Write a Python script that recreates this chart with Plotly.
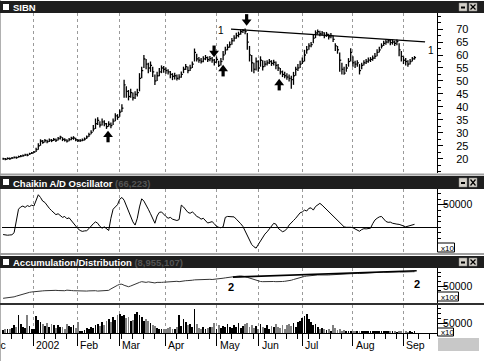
import plotly.graph_objects as go

W, H = 484, 361


def py(p):
    return 1 - p / H


def px(p):
    return p / W


# ---------------- data (trading-day index on x) ----------------
close = [
    20.0, 19.8, 20.1, 20.0, 20.3, 20.5, 20.4, 20.8, 21.0, 21.2, 21.5, 21.4, 21.9, 22.2, 22.6,
    23.5, 25.0, 26.8, 26.3,
    27.0, 26.6, 27.2, 27.0, 27.4, 27.1, 27.8, 28.3, 27.5, 27.2, 26.8, 27.4, 27.9, 28.0, 27.3, 27.0,
    27.0, 27.2, 27.6, 28.4, 29.3, 30.2,
    31.5, 33.5, 34.8, 33.0, 34.2, 33.5, 32.4, 33.3, 32.8,
    34.5, 36.5, 36.0, 38.0, 39.5,
    48.5,
    46.0, 44.0, 45.5, 43.5, 44.8, 45.5,
    51.0, 54.0,
    58.5,
    56.5, 55.0, 56.0, 53.5,
    50.0,
    52.0, 53.5, 55.0, 54.5, 54.0, 53.5,
    52.5, 51.8, 52.0, 51.0, 51.5, 52.5,
    54.5, 55.5, 54.0, 55.0, 56.5,
    61.0, 58.5,
    58.0, 57.5, 58.5, 59.0, 58.2, 58.6,
    58.0, 57.2, 58.3,
    56.0, 57.5,
    60.0, 62.0, 63.0, 64.0, 65.5,
    66.5, 67.5, 68.0, 69.0, 69.5,
    69.0,
    65.0, 60.0, 57.0,
    54.5, 57.5, 55.0, 58.0, 55.5,
    56.5, 57.0, 57.5, 56.8, 57.2, 56.0,
    55.0, 53.5, 52.5, 52.0, 51.5, 51.0,
    50.5,
    52.0, 54.5, 55.0, 56.5, 57.5,
    60.0, 62.0, 63.5, 64.0,
    66.5, 68.5, 69.0, 68.2,
    68.5, 67.5, 68.0, 67.0, 67.5, 66.0,
    63.5, 62.0,
    58.0, 54.5, 53.0, 55.0,
    57.5, 61.0, 57.0,
    56.5, 57.0, 54.0, 56.0,
    57.0, 57.5, 58.0, 58.3, 58.8,
    59.5, 61.0, 62.0, 63.5, 64.5,
    65.0, 65.5, 64.8, 65.0, 64.5, 65.2,
    62.0, 59.5,
    58.0, 57.5, 56.5, 57.5,
    58.5, 59.0,
]

high = [
    20.4, 20.3, 20.5, 20.5, 20.7, 20.9, 20.9, 21.2, 21.4, 21.6, 21.9, 21.9, 22.3, 22.6, 23.0,
    24.2, 26.0, 27.5, 27.2,
    27.6, 27.3, 27.8, 27.6, 28.0, 27.8, 28.4, 28.9, 28.3, 27.9, 27.5, 28.0, 28.5, 28.7, 28.1, 27.6,
    27.6, 27.8, 28.2, 29.0, 30.0, 31.0,
    33.0, 35.5, 36.0, 34.5, 35.5, 34.8, 33.8, 34.5, 34.0,
    35.5, 37.5, 37.2, 39.0, 41.0,
    50.5,
    48.0, 46.5, 47.0, 45.5, 46.0, 47.0,
    53.0, 55.5,
    60.0,
    58.5, 57.0, 57.5, 55.5,
    52.5,
    53.5, 55.0, 56.0, 55.8, 55.2, 54.5,
    53.8, 53.0, 53.2, 52.5, 52.6, 53.6,
    55.5, 56.5, 55.6, 56.2, 57.5,
    62.5, 60.5,
    59.2, 58.8, 59.5, 60.0, 59.4, 59.6,
    59.2, 58.5, 59.4,
    57.8, 58.8,
    61.5, 63.2, 64.2, 65.2, 66.6,
    67.6, 68.6, 69.0, 69.8, 70.0,
    70.2,
    68.5, 63.5, 60.0,
    57.0, 59.0, 58.0, 59.5, 58.0,
    57.8, 58.0, 58.5, 58.0, 58.2, 57.5,
    56.5, 55.0, 54.0, 53.5, 53.0, 52.5,
    52.0,
    53.5, 55.5, 56.5, 57.8, 59.0,
    62.0, 63.5, 64.5, 65.0,
    68.0, 69.5, 69.8, 69.4,
    69.3, 68.8, 68.9, 68.2, 68.5, 67.5,
    64.5, 63.5,
    61.0, 57.0, 55.5, 56.5,
    58.8, 62.6, 59.5,
    57.8, 58.0, 56.5, 57.0,
    58.0, 58.5, 59.0, 59.2, 59.8,
    60.8, 62.2, 63.2, 64.5, 65.5,
    66.0, 66.2, 65.8, 66.0, 65.5, 66.0,
    64.5, 61.5,
    59.5, 58.8, 58.0, 58.5,
    59.2, 59.6,
]

low = [
    19.6, 19.4, 19.7, 19.6, 19.9, 20.1, 20.0, 20.4, 20.6, 20.8, 21.1, 21.0, 21.5, 21.8, 22.2,
    22.6, 23.5, 25.0, 25.8,
    26.3, 26.0, 26.5, 26.4, 26.8, 26.5, 27.0, 27.4, 26.8, 26.6, 26.3, 26.7, 27.1, 27.3, 26.7, 26.5,
    26.5, 26.7, 27.0, 27.6, 28.4, 29.4,
    30.5, 31.5, 33.0, 32.0, 32.8, 32.5, 31.5, 32.3, 31.8,
    33.0, 34.5, 35.0, 36.2, 38.0,
    43.5,
    43.5, 42.5, 43.5, 42.5, 43.0, 44.0,
    46.0, 51.0,
    55.0,
    54.5, 53.0, 53.5, 51.5,
    48.4,
    50.0, 51.8, 53.0, 53.2, 52.8, 52.5,
    51.0, 50.3, 50.6, 50.2, 50.5, 51.2,
    53.0, 54.2, 53.0, 53.8, 55.0,
    57.5, 57.5,
    57.0, 56.7, 57.2, 58.0, 57.3, 57.6,
    57.0, 56.0, 57.0,
    55.4, 56.0,
    58.0, 60.2, 61.8, 62.8, 64.0,
    65.2, 66.3, 66.8, 67.8, 68.5,
    68.0,
    62.0, 57.5, 53.5,
    53.0, 54.0, 53.5, 55.5, 54.0,
    55.5, 56.0, 56.5, 55.8, 56.0, 54.5,
    53.8, 52.5, 51.5, 51.0, 50.5, 49.8,
    47.0,
    48.5, 52.0, 53.8, 55.0, 56.5,
    57.5, 60.5, 62.0, 63.0,
    64.5, 66.5, 68.0, 67.2,
    67.5, 66.5, 67.0, 66.0, 66.5, 65.0,
    61.5, 60.5,
    53.5, 52.5, 52.4, 53.5,
    55.5, 57.5, 55.5,
    55.0, 55.5, 52.5, 54.5,
    56.0, 56.5, 57.0, 57.3, 57.8,
    58.5, 59.5, 61.0, 62.5, 63.5,
    64.0, 64.5, 63.8, 64.0, 63.5, 63.8,
    59.5, 57.5,
    56.5, 56.0, 55.5, 56.3,
    57.5, 58.2,
]

# Chaikin A/D oscillator (axis units, x10)
chaikin = [
    -16000, -17000, -17500, -17000, -16500, -12000,
    15000, 40000, 45000,
    47000, 44000, 48000, 46000, 49000, 47000,
    60000, 72000,
    66000, 58000, 55000, 47000, 42000, 37000,
    33000, 28000, 30000, 26000, 22000, 24000, 19000, 21000,
    15000, 8000, 2000, -3000,
    -7000, -9000, -8000, -7500, -3000,
    3000, 8000, 12000, 9000,
    2000, -2000, 1000, -4000, -7000,
    20000, 40000, 45000,
    50000, 62000, 66000, 60000,
    48000, 35000, 25000, 12000, 5000,
    20000, 45000, 63000,
    58000, 50000, 40000, 30000, 18000, 9000,
    25000, 33000, 34000, 28000,
    24000, 20000, 22000, 18000, 16000, 15000, 17000,
    49000, 45000, 40000, 33000, 31000, 34000,
    30000, 24000, 22000, 18000, 20000, 14000, 9500,
    11000, 12500, 8000,
    2000, 0, -1000, 1000,
    22000, 24000, 23500, 24000, 23000,
    18000, 14000, 8000, 2000,
    -8000, -20000, -30000, -38000, -43000, -46000,
    -38000, -30000, -22000, -15000, -10000, -3000,
    3000, 8800, 7000,
    -2000, -6000, -9700, -8000, -3000,
    5000, 9000, 15000, 20000,
    25000, 32000, 34000, 38000, 36000, 42000, 43000,
    38000, 46000, 50000, 53000,
    49000, 44000, 40000, 35000, 30000, 26000, 20000, 15000, 10000, 5000, 1000,
    0, 500, 0, -1000,
    -4000, -7000, -8800,
    -5000, -3000, -3500, -3000, -2000,
    8000, 16000, 20000, 23000, 24000,
    18000, 13000, 11000, 11500,
    9000, 8800, 7000, 6500, 4000, 3000,
    1000, 2500, 4000, 5500, 6600,
]

# Accumulation/Distribution line (axis units, x100)
ad_line = [
    16000, 16500, 17500, 17000, 18500, 20000, 22000, 24000, 26500, 28000, 30000, 31500, 32500, 33500, 34500,
    35500, 36000, 37000, 36500, 37000, 37500, 37000, 36500, 37000, 38000, 37500, 37000, 36500, 37000, 38500,
    39000, 37500, 37000, 36500, 37000,
    36500, 36000, 36500, 36000, 36500, 37000, 37500, 37000, 36000, 36500, 37000, 36000, 37000, 38000,
    42000, 46000, 50000, 52000, 54700, 55000, 52000, 50000,
    48000, 50000, 53000, 56000, 58000, 60000, 62000,
    61000, 60000, 61500, 60000, 59000, 58500, 60000, 61000, 60000,
    60500, 61000, 62000, 61500, 62000, 62500, 63000, 62000, 63500, 64000, 64700,
    65000, 64500, 66000, 67000, 67500, 68000, 68500, 68000, 68500, 69000, 68500, 68000, 68500, 68000,
    69000, 70000, 71500, 72500, 73500, 75000, 75700, 76500, 77000, 77500, 77800, 77700,
    76000, 74000, 72000, 69000, 67000, 66000, 64000,
    62500, 62000, 62500, 62000, 61500, 62000, 62500, 62000, 61500, 62000, 62500, 63000, 63500,
    64500, 66000, 68000, 70000, 72000, 74000, 75500, 76500, 77500, 78500, 79000, 79500, 80000, 80500, 80500,
    80000, 80500, 81000, 80500, 81000, 81500, 82000, 82500, 83000, 82500, 83000, 83500, 84000, 84500, 84000,
    84500,
    85000, 84500, 85000, 84000, 84500, 85000, 85500, 86000, 86500, 87000, 87500, 88000, 88500, 88000, 88500,
    88000, 88500, 89000, 88500, 89000, 88500, 89000, 89500, 89000, 89300, 89500, 89551,
]

# Volume (axis units, x10)
volume = [
    15000, 20000, 22000, 18000, 25000,
    40000, 30000, 90000, 45000, 30000,
    25000, 88000, 35000, 20000, 22000,
    85000, 65000, 55000, 45000, 35000,
    50000, 30000, 45000, 40000, 25000,
    38000, 28000, 30000, 22000, 45000,
    35000, 30000, 42000, 25000, 55000,
    10000, 12000, 15000, 25000, 20000,
    30000, 25000, 38000, 45000, 35000,
    55000, 40000, 60000, 70000, 55000,
    80000, 65000, 90000, 95000, 85000,
    88000, 75000, 80000, 60000, 65000,
    95000, 105000, 88000, 80000, 60000,
    70000, 62000, 50000, 40000, 35000,
    25000, 20000, 22000, 18000, 20000,
    25000, 30000, 20000, 22000, 28000,
    88000, 35000, 72000, 55000, 38000,
    45000, 30000, 122000, 45000, 25000,
    20000, 28000, 22000, 25000, 30000,
    28000, 50000, 22000, 38000, 25000,
    35000, 30000, 45000, 28000, 25000,
    40000, 30000, 48000, 25000, 35000,
    45000, 50000, 30000, 40000, 25000,
    35000, 20000, 45000, 30000, 25000,
    40000, 22000, 35000, 28000, 45000,
    30000, 25000, 38000, 22000, 40000,
    45000, 35000, 50000, 30000, 55000,
    60000, 75000, 85000, 97000, 70000,
    55000, 40000, 45000, 30000, 22000,
    25000, 18000, 15000, 20000, 12000,
    38000, 25000, 15000, 18000, 12000,
    15000, 10000, 8000, 12000, 9000,
    7000, 10000, 8000, 6000, 12000,
    8000, 10000, 7000, 9000, 6000,
    8000, 12000, 7000, 6000, 10000,
    8000, 6000, 9000, 7000, 5000,
    12000, 8000, 6000, 10000, 5000,
    7000, 4000, 6000,
]

month_idx = [13.6, 33.6, 52.7, 73.6, 97.2, 116.3, 135.9, 159.0, 181.8]
month_lbl = ["2002", "Feb", "Mar", "Apr", "May", "Jun", "Jul", "Aug", "Sep"]

price_ticks = [20, 25, 30, 35, 40, 45, 50, 55, 60, 65, 70]

trend1_x = [103.6, 191.8]
trend1_y = [70.0, 65.1]
trend2_x = [104.5, 188.0]
trend2_y = [74500, 92300]

# arrows: (day index, price at arrow tip, direction)
arrows = [(47.7, 30.2, "up"), (95.9, 59.8, "down"), (100.0, 55.6, "up"),
          (110.7, 71.9, "down"), (125.5, 50.2, "up")]

days = list(range(len(close)))

# ---------------- figure ----------------
fig = go.Figure()

bx, by = [], []
for i, h, l, c in zip(days, high, low, close):
    bx += [i, i, None, i, i + 0.7, None]
    by += [l, h, None, c, c, None]
fig.add_trace(go.Scatter(x=bx, y=by, mode="lines", line=dict(color="black", width=1.3),
                         xaxis="x", yaxis="y", hoverinfo="skip"))
fig.add_trace(go.Scatter(x=trend1_x, y=trend1_y, mode="lines", line=dict(color="black", width=1.3),
                         xaxis="x", yaxis="y"))

# block arrows: triangle head + thick shaft (price units per pixel of the panel)
ppx = (76.2 - 14.5) / 160.0
for (i, p, d) in arrows:
    s = 1 if d == "up" else -1
    fig.add_trace(go.Scatter(x=[i, i], y=[p - s * 4 * ppx, p - s * 10 * ppx], mode="lines",
                             line=dict(color="black", width=3.2), xaxis="x", yaxis="y",
                             hoverinfo="skip"))
    fig.add_trace(go.Scatter(x=[i], y=[p - s * 2.6 * ppx], mode="markers",
                             marker=dict(symbol="triangle-up" if d == "up" else "triangle-down",
                                         size=8.5, color="black", line=dict(width=0)),
                             xaxis="x", yaxis="y", hoverinfo="skip"))

fig.add_trace(go.Scatter(x=days, y=chaikin, mode="lines", line=dict(color="black", width=1),
                         xaxis="x2", yaxis="y2"))

fig.add_trace(go.Scatter(x=days, y=ad_line, mode="lines", line=dict(color="#333333", width=1),
                         xaxis="x3", yaxis="y3"))
fig.add_trace(go.Scatter(x=trend2_x, y=trend2_y, mode="lines", line=dict(color="black", width=1.6),
                         xaxis="x3", yaxis="y3"))

vcol = ["black" if i == 0 or close[i] >= close[i - 1] else "#808080" for i in days]
fig.add_trace(go.Bar(x=days, y=volume, width=0.4, marker=dict(color=vcol, line=dict(width=0)),
                     xaxis="x4", yaxis="y4"))

xr = [-0.5, (437 - 2) / 2.2 - 0.5]
xdom = [px(2), px(437)]
font = "Liberation Sans, Arial, sans-serif"

common_x = dict(domain=xdom, range=xr, tickvals=month_idx, showticklabels=False, ticks="",
                showgrid=True, gridcolor="#9a9a9a", griddash="dot", gridwidth=1, zeroline=False,
                fixedrange=True)

layout = dict(
    width=W, height=H, margin=dict(l=0, r=0, t=0, b=0), showlegend=False,
    paper_bgcolor="white", plot_bgcolor="white", bargap=0,
    xaxis=dict(**common_x, anchor="y"),
    xaxis2=dict(**common_x, anchor="y2"),
    xaxis3=dict(**common_x, anchor="y3"),
    xaxis4=dict(domain=xdom, range=xr, tickvals=month_idx, showticklabels=False, ticks="outside",
                ticklen=12, tickcolor="black", tickwidth=1, showline=True, linecolor="black",
                showgrid=True, gridcolor="#9a9a9a", griddash="dot", zeroline=False, anchor="y4",
                minor=dict(ticks="outside", ticklen=5, tickcolor="black", dtick=5, tick0=13.6,
                           showgrid=False)),
)

ycommon = dict(side="right", showline=True, linecolor="black", linewidth=1, ticks="outside",
               tickcolor="black", showgrid=False, zeroline=False,
               tickfont=dict(family=font, size=11, color="black"))

layout["yaxis"] = dict(**ycommon, domain=[py(173), py(13)], range=[14.5, 76.2], anchor="x",
                       tickvals=price_ticks, ticklen=5, ticklabelstandoff=11,
                       minor=dict(ticks="outside", ticklen=3, dtick=2.5, tickcolor="black"))
layout["yaxis2"] = dict(**ycommon, domain=[py(252), py(189)], range=[-54600, 84700], anchor="x2",
                        tickvals=[50000], ticktext=["50000"], ticklen=9, ticklabelstandoff=-6,
                        minor=dict(ticks="outside", ticklen=3, dtick=12500, tickcolor="black"))
layout["yaxis2"]["zeroline"] = True
layout["yaxis2"]["zerolinecolor"] = "black"
layout["yaxis2"]["zerolinewidth"] = 1
layout["yaxis3"] = dict(**ycommon, domain=[py(303), py(268)], range=[3000, 99800], anchor="x3",
                        tickvals=[50000], ticktext=["50000"], ticklen=9, ticklabelstandoff=-6,
                        minor=dict(ticks="outside", ticklen=3, dtick=12500, tickcolor="black"))
layout["yaxis4"] = dict(**ycommon, domain=[py(333), py(305)], range=[0, 140000], anchor="x4",
                        tickvals=[50000], ticktext=["50000"], ticklen=9, ticklabelstandoff=-6,
                        minor=dict(ticks="outside", ticklen=3, dtick=25000, tickcolor="black"))
for k in ["yaxis2", "yaxis3", "yaxis4"]:
    layout[k]["tickfont"] = dict(family=font, size=10.5, color="black")
fig.update_layout(**layout)

shapes = []
ann = []


def rect(x0, y0, x1, y1, fill, line=None, lw=0):
    shapes.append(dict(type="rect", xref="paper", yref="paper", x0=px(x0), x1=px(x1),
                       y0=py(y1), y1=py(y0), fillcolor=fill,
                       line=dict(color=line or fill, width=lw), layer="above"))


def pline(x0, y0, x1, y1, color, w):
    shapes.append(dict(type="line", xref="paper", yref="paper", x0=px(x0), x1=px(x1),
                       y0=py(y0), y1=py(y1), line=dict(color=color, width=w), layer="above"))


def text(x, y, s, size=9, color="black", bold=False, anchor="left", fam=font):
    ann.append(dict(xref="paper", yref="paper", x=px(x), y=py(y), text=f"<b>{s}</b>" if bold else s,
                    showarrow=False, xanchor=anchor, yanchor="middle",
                    font=dict(family=fam, size=size, color=color)))


# window borders / separators
pline(0.5, 0, 0.5, 361, "#b0b0b0", 1)
pline(0, 174.5, 484, 174.5, "#a0a0a0", 2)
pline(0, 254, 484, 254, "#a0a0a0", 2)
pline(0, 304, 484, 304, "#303030", 2)

# title bars
for (y0, y1, title, val) in [(1, 13, "SIBN", ""), (176, 189, "Chaikin A/D Oscillator", "(66,223)"),
                             (256, 268, "Accumulation/Distribution", "(8,955,107)")]:
    rect(0, y0, 484, y1, "#1e1e1e")
    rect(3, y0 + 3, 9, y0 + 9, "white")
    yc = (y0 + y1) / 2
    lbl = f"<b>{title}</b>" + (f" <b><span style='color:#555555'>{val}</span></b>" if val else "")
    ann.append(dict(xref="paper", yref="paper", x=px(11), y=py(yc + 0.5), text=lbl, showarrow=False,
                    xanchor="left", yanchor="middle", font=dict(family=font, size=9.5, color="white")))
    # window buttons
    rect(459, y0 + 2, 467, y1 - 2, "#d4d0c8", "#808080", 0.5)
    rect(461, yc - 0.5, 465, yc + 1.5, "#000000")
    rect(469, y0 + 2, 477, y1 - 2, "#d4d0c8", "#808080", 0.5)
    pline(470.5, y0 + 3.5, 475.5, y1 - 3.5, "black", 1.2)
    pline(470.5, y1 - 3.5, 475.5, y0 + 3.5, "black", 1.2)

# multiplier boxes
for (y0, y1, s, w) in [(243, 252, "x10", 17), (292, 301, "x100", 21), (328, 336, "x10", 16)]:
    rect(437.5, y0, 437.5 + w, y1, "white", "black", 1)
    text(438.5, (y0 + y1) / 2 + 0.5, s, size=8)

# bottom-right grey box
rect(438, 338, 479, 351, "#c8c8c8")

# month labels
for m, lbl in zip(month_idx, month_lbl):
    ann.append(dict(xref="x4", yref="paper", x=m, y=py(345), text=lbl, showarrow=False,
                    xanchor="left", yanchor="middle", xshift=1,
                    font=dict(family=font, size=10.5, color="black")))
ann.append(dict(xref="paper", yref="paper", x=px(-15), y=py(345), text="Dec", showarrow=False,
                xanchor="left", yanchor="middle", font=dict(family=font, size=10.5, color="black")))

# trendline labels
ann.append(dict(xref="x", yref="y", x=trend1_x[0], y=trend1_y[0], text="1", showarrow=False,
                xanchor="right", yanchor="middle", xshift=-5, yshift=-1,
                font=dict(family=font, size=10, color="black")))
ann.append(dict(xref="x", yref="y", x=trend1_x[1], y=trend1_y[1], text="1", showarrow=False,
                xanchor="left", yanchor="top", xshift=1, yshift=-1,
                font=dict(family=font, size=10, color="black")))
ann.append(dict(xref="x3", yref="y3", x=trend2_x[0], y=trend2_y[0], text="<b>2</b>", showarrow=False,
                xanchor="center", yanchor="top", xshift=-2, yshift=-2,
                font=dict(family=font, size=11, color="black")))
ann.append(dict(xref="x3", yref="y3", x=trend2_x[1], y=trend2_y[1], text="<b>2</b>", showarrow=False,
                xanchor="center", yanchor="top", xshift=0, yshift=-5,
                font=dict(family=font, size=11, color="black")))

fig.update_layout(shapes=shapes, annotations=ann)
fig.write_html("out.html", config={"displayModeBar": False},
               post_script="document.body.style.margin='0px';")
